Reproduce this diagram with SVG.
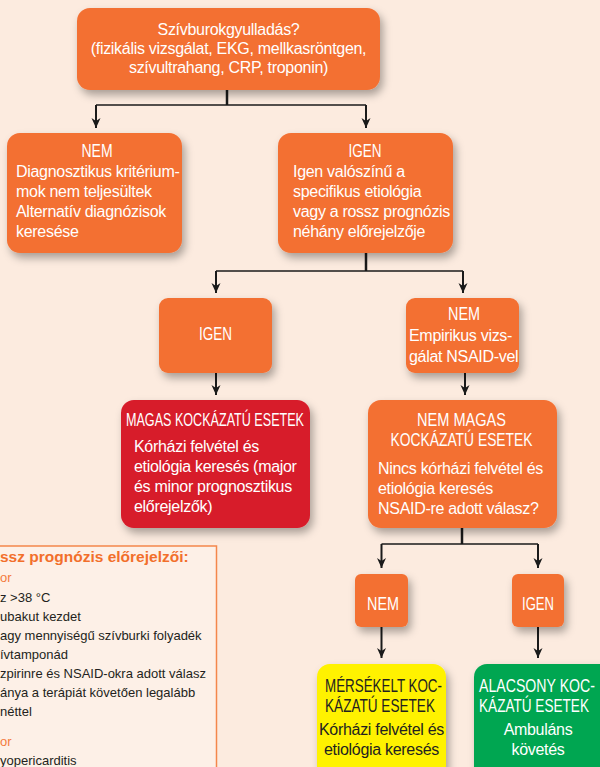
<svg xmlns="http://www.w3.org/2000/svg" width="600" height="767" viewBox="0 0 600 767">
<defs>
<filter id="sh" x="-20%" y="-20%" width="150%" height="160%">
<feDropShadow dx="3" dy="5" stdDeviation="4" flood-color="#000" flood-opacity="0.33"/>
</filter>
<marker id="ah" viewBox="0 0 10 10" refX="10" refY="5" markerWidth="10" markerHeight="10" markerUnits="userSpaceOnUse" orient="auto">
<path d="M0,0.5 L10,5 L0,9.5 L3,5 z" fill="#1a1a1a"/>
</marker>
<style>
.bx{fill:#f37033;filter:url(#sh)}
.red{fill:#d71a2a;filter:url(#sh)}
.yel{fill:#fff200;filter:url(#sh)}
.grn{fill:#00a651;filter:url(#sh)}
.t{font-family:"Liberation Sans",Arial,sans-serif;font-size:16px;fill:#fff;letter-spacing:-0.3px}
.h{font-family:"Liberation Sans",Arial,sans-serif;font-size:18px;fill:#fff}
.dk{fill:#231f20}
.c{text-anchor:middle}
.stem{stroke:#1a1a1a;stroke-width:2.5;fill:none}
.ln{stroke:#1a1a1a;stroke-width:1.5;fill:none}
.ar{stroke:#1a1a1a;stroke-width:2;fill:none;marker-end:url(#ah)}
.p{font-family:"Liberation Sans",Arial,sans-serif;font-size:13px;fill:#231f20}
.po{font-family:"Liberation Sans",Arial,sans-serif;font-size:13px;fill:#f47b3d}
.pt{font-family:"Liberation Sans",Arial,sans-serif;font-size:15.5px;font-weight:bold;fill:#f26f2b}
</style>
</defs>
<rect width="600" height="767" fill="#fcebdf"/>

<g id="panel">
<rect x="-10" y="546" width="226.5" height="240" fill="#fdf0e7" stroke="#f4874b" stroke-width="1.5"/>
<text class="pt" x="0" y="562">ssz prognózis előrejelzői:</text>
<text class="po" x="0" y="582">or</text>
<text class="p" x="0" y="602">z &gt;38 °C</text>
<text class="p" x="0" y="621">ubakut kezdet</text>
<text class="p" x="0" y="640">agy mennyiségű szívburki folyadék</text>
<text class="p" x="0" y="659">ívtamponád</text>
<text class="p" x="0" y="678">zpirinre és NSAID-okra adott válasz</text>
<text class="p" x="0" y="697">ánya a terápiát követően legalább</text>
<text class="p" x="0" y="716">néttel</text>
<text class="po" x="0" y="746">or</text>
<text class="p" x="0" y="765">yopericarditis</text>
</g>

<g id="connectors">
<path class="stem" d="M227,90 V105"/>
<path class="ln" d="M96,105 H366"/>
<path class="ar" d="M96,105 V128"/>
<path class="ar" d="M366,105 V128"/>
<path class="stem" d="M366,253 V271"/>
<path class="ln" d="M216,271 H463"/>
<path class="ar" d="M216,271 V293"/>
<path class="ar" d="M463,271 V293"/>
<path class="ar" d="M216,373 V395"/>
<path class="ar" d="M465,373 V395"/>
<path class="stem" d="M462,528 V544"/>
<path class="ln" d="M381.5,544 H538"/>
<path class="ar" d="M381.5,544 V568"/>
<path class="ar" d="M538,544 V568"/>
<path class="ar" d="M381.5,627 V658"/>
<path class="ar" d="M538,627 V658"/>
</g>

<g id="n-top">
<rect class="bx" x="77" y="8" width="303" height="82" rx="13"/>
<text class="t c" x="228.5" y="35">Szívburokgyulladás?</text>
<text class="t c" x="228.5" y="54">(fizikális vizsgálat, EKG, mellkasröntgen,</text>
<text class="t c" x="228.5" y="73">szívultrahang, CRP, troponin)</text>
</g>

<g id="n-nem1">
<rect class="bx" x="7" y="133" width="175" height="120" rx="13"/>
<text class="h c" x="97" y="157" textLength="31" lengthAdjust="spacingAndGlyphs">NEM</text>
<text class="t" x="16" y="177">Diagnosztikus kritérium-</text>
<text class="t" x="16" y="197">mok nem teljesültek</text>
<text class="t" x="16" y="217">Alternatív diagnózisok</text>
<text class="t" x="16" y="237">keresése</text>
</g>

<g id="n-igen1">
<rect class="bx" x="278" y="133" width="175" height="120" rx="13"/>
<text class="h c" x="365" y="157" textLength="33" lengthAdjust="spacingAndGlyphs">IGEN</text>
<text class="t" x="293" y="177">Igen valószínű a</text>
<text class="t" x="293" y="197">specifikus etiológia</text>
<text class="t" x="293" y="217">vagy a rossz prognózis</text>
<text class="t" x="293" y="237">néhány előrejelzője</text>
</g>

<g id="n-igen2">
<rect class="bx" x="159" y="298" width="113" height="75" rx="9"/>
<text class="h c" x="215.5" y="340" textLength="33" lengthAdjust="spacingAndGlyphs">IGEN</text>
</g>

<g id="n-nem2">
<rect class="bx" x="406" y="298" width="113" height="75" rx="9"/>
<text class="h c" x="464" y="320" textLength="32" lengthAdjust="spacingAndGlyphs">NEM</text>
<text class="t" x="409" y="341">Empirikus vizs-</text>
<text class="t" x="409" y="362">gálat NSAID-vel</text>
</g>

<g id="n-magas">
<rect class="red" x="121" y="400" width="189" height="128" rx="13"/>
<text class="h" x="126" y="426" textLength="178" lengthAdjust="spacingAndGlyphs">MAGAS KOCKÁZATÚ ESETEK</text>
<text class="t" x="134" y="452">Kórházi felvétel és</text>
<text class="t" x="134" y="472">etiológia keresés (major</text>
<text class="t" x="134" y="492">és minor prognosztikus</text>
<text class="t" x="134" y="512">előrejelzők)</text>
</g>

<g id="n-nemmagas">
<rect class="bx" x="368" y="400" width="189" height="128" rx="13"/>
<text class="h c" x="461.5" y="426" textLength="89" lengthAdjust="spacingAndGlyphs">NEM MAGAS</text>
<text class="h c" x="461.5" y="446" textLength="142" lengthAdjust="spacingAndGlyphs">KOCKÁZATÚ ESETEK</text>
<text class="t" x="378" y="474">Nincs kórházi felvétel és</text>
<text class="t" x="378" y="494">etiológia keresés</text>
<text class="t" x="378" y="514">NSAID-re adott válasz?</text>
</g>

<g id="n-nem3">
<rect class="bx" x="355" y="574" width="53" height="53" rx="6"/>
<text class="h c" x="383" y="610" textLength="32" lengthAdjust="spacingAndGlyphs">NEM</text>
</g>

<g id="n-igen3">
<rect class="bx" x="512" y="574" width="52" height="53" rx="6"/>
<text class="h c" x="538" y="610" textLength="32" lengthAdjust="spacingAndGlyphs">IGEN</text>
</g>

<g id="n-merseklet">
<rect class="yel" x="317" y="664" width="129" height="120" rx="13"/>
<text class="h dk" x="325" y="692" textLength="117" lengthAdjust="spacingAndGlyphs">MÉRSÉKELT KOC-</text>
<text class="h dk" x="325" y="712" textLength="110" lengthAdjust="spacingAndGlyphs">KÁZATÚ ESETEK</text>
<text class="t dk c" x="381.5" y="735">Kórházi felvétel és</text>
<text class="t dk c" x="381.5" y="755">etiológia keresés</text>
</g>

<g id="n-alacsony">
<rect class="grn" x="474" y="664" width="140" height="120" rx="13"/>
<text class="h" x="479" y="692" textLength="116" lengthAdjust="spacingAndGlyphs">ALACSONY KOC-</text>
<text class="h" x="479" y="712" textLength="110" lengthAdjust="spacingAndGlyphs">KÁZATÚ ESETEK</text>
<text class="t c" x="538" y="735">Ambuláns</text>
<text class="t c" x="538" y="755">követés</text>
</g>
</svg>
